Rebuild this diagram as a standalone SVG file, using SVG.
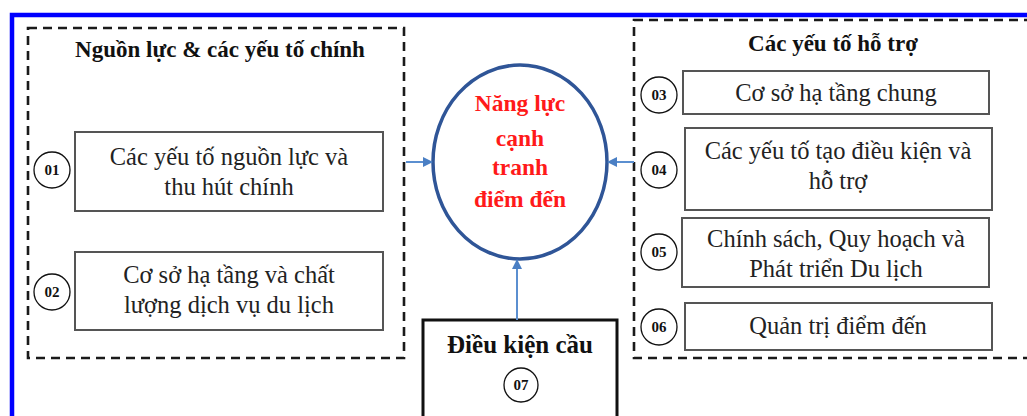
<svg xmlns="http://www.w3.org/2000/svg" width="1027" height="416" viewBox="0 0 1027 416">
  <defs>
    <style>
      .frame { fill: none; stroke: #0000ff; stroke-width: 4.5; }
      .group { fill: none; stroke: #1a1a1a; stroke-width: 2.6; stroke-dasharray: 9 6; }
      .box { fill: #ffffff; stroke: #555555; stroke-width: 2; }
      .badge { fill: #ffffff; stroke: #111111; stroke-width: 1.3; }
      .num { font-family: "Liberation Serif", serif; font-size: 15px; font-weight: bold; fill: #111111; text-anchor: middle; }
      .label { font-family: "Liberation Serif", serif; font-size: 24.5px; fill: #222222; text-anchor: middle; }
      .title { font-family: "Liberation Serif", serif; font-size: 23px; font-weight: bold; fill: #111111; text-anchor: middle; }
      .core { font-family: "Liberation Serif", serif; font-size: 23.5px; font-weight: bold; fill: #ff1a1a; text-anchor: middle; }
      .link { fill: none; stroke: #5b8fd0; stroke-width: 2; }
    </style>
    <marker id="arrow" viewBox="0 0 10 10" refX="9" refY="5" markerWidth="5" markerHeight="5" orient="auto">
      <path d="M0,0 L10,5 L0,10 z" fill="#4a7fc4"/>
    </marker>
  </defs>

  <rect width="1027" height="416" fill="#ffffff"/>
  <!-- outer blue frame -->
  <rect class="frame" x="12" y="15" width="1030" height="420"/>

  <!-- main resources group -->
  <g id="group-main">
    <rect class="group" x="28" y="28" width="376" height="330"/>
    <text class="title" x="220" y="57">Nguồn lực &amp; các yếu tố chính</text>
  </g>
  <g id="node-01">
    <rect class="box" x="75" y="132" width="308" height="79"/>
    <text class="label" x="229" y="165">Các yếu tố nguồn lực và</text>
    <text class="label" x="229" y="195">thu hút chính</text>
    <circle class="badge" cx="52" cy="170" r="18"/>
    <text class="num" x="52" y="175">01</text>
  </g>
  <g id="node-02">
    <rect class="box" x="75" y="252" width="308" height="78"/>
    <text class="label" x="229" y="283">Cơ sở hạ tầng và chất</text>
    <text class="label" x="229" y="313">lượng dịch vụ du lịch</text>
    <circle class="badge" cx="52" cy="292" r="18"/>
    <text class="num" x="52" y="297">02</text>
  </g>

  <!-- supporting factors group -->
  <g id="group-support">
    <rect class="group" x="634" y="20" width="420" height="338"/>
    <text class="title" x="833" y="51">Các yếu tố hỗ trợ</text>
  </g>
  <g id="node-03">
    <rect class="box" x="683" y="71" width="306" height="43"/>
    <text class="label" x="836" y="101">Cơ sở hạ tầng chung</text>
    <circle class="badge" cx="659" cy="95" r="18"/>
    <text class="num" x="659" y="100">03</text>
  </g>
  <g id="node-04">
    <rect class="box" x="685" y="128" width="307" height="82"/>
    <text class="label" x="838" y="159">Các yếu tố tạo điều kiện và</text>
    <text class="label" x="838" y="189">hỗ trợ</text>
    <circle class="badge" cx="659" cy="170" r="18"/>
    <text class="num" x="659" y="175">04</text>
  </g>
  <g id="node-05">
    <rect class="box" x="682" y="218" width="307" height="69"/>
    <text class="label" x="836" y="247">Chính sách, Quy hoạch và</text>
    <text class="label" x="836" y="277">Phát triển Du lịch</text>
    <circle class="badge" cx="659" cy="252" r="18"/>
    <text class="num" x="659" y="257">05</text>
  </g>
  <g id="node-06">
    <rect class="box" x="685" y="303" width="307" height="47"/>
    <text class="label" x="838" y="334">Quản trị điểm đến</text>
    <circle class="badge" cx="659" cy="327" r="18"/>
    <text class="num" x="659" y="332">06</text>
  </g>

  <!-- central outcome -->
  <g id="node-core">
    <ellipse cx="520" cy="162" rx="87" ry="97" fill="#ffffff" stroke="#2f5597" stroke-width="3.5"/>
    <text class="core" x="520" y="111">Năng lực</text>
    <text class="core" x="520" y="146">cạnh</text>
    <text class="core" x="520" y="175">tranh</text>
    <text class="core" x="520" y="207">điểm đến</text>
  </g>

  <!-- demand conditions -->
  <g id="node-07">
    <rect x="423" y="320" width="194" height="110" fill="#ffffff" stroke="#111111" stroke-width="3"/>
    <text class="title" x="520" y="353" style="font-size:25px">Điều kiện cầu</text>
    <circle class="badge" cx="521" cy="385" r="17"/>
    <text class="num" x="521" y="390">07</text>
  </g>

  <!-- connectors -->
  <g id="connectors">
    <line class="link" x1="406" y1="162" x2="432" y2="162" marker-end="url(#arrow)"/>
    <line class="link" x1="634" y1="162" x2="608" y2="162" marker-end="url(#arrow)"/>
    <line class="link" x1="517" y1="320" x2="517" y2="260" marker-end="url(#arrow)"/>
  </g>
</svg>
